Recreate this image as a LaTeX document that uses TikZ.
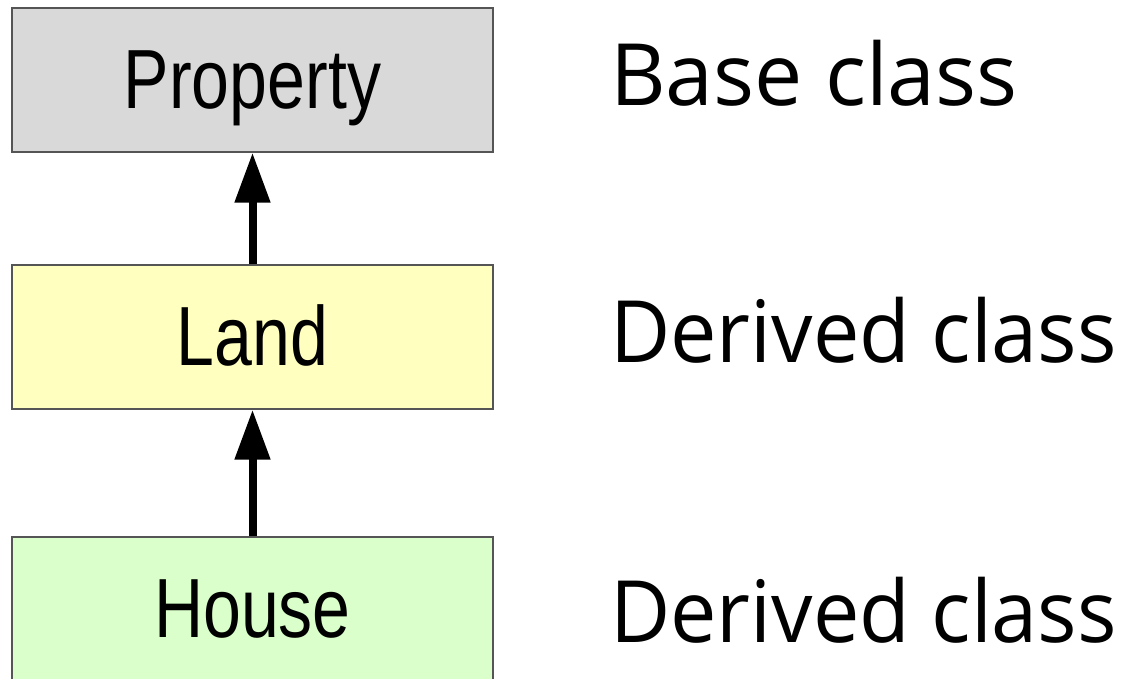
\documentclass[tikz,border=0pt]{standalone}
\usepackage{fontspec}
\setmainfont{Liberation Sans}
\newfontfamily\labelfont{Open Sans}
\usetikzlibrary{arrows.meta}
\definecolor{propfill}{HTML}{D9D9D9}
\definecolor{landfill}{HTML}{FFFFC0}
\definecolor{housefill}{HTML}{DAFFCA}
\definecolor{boxline}{HTML}{555555}
\tikzset{
  classbox/.style={draw=boxline, line width=1.3pt, rectangle, minimum width=481pt, minimum height=144pt, inner sep=0pt, text height=60pt, text depth=4pt, font=\fontsize{84}{90}\selectfont},
  inherit/.style={line width=8pt, -{Triangle[width=34pt,length=50pt]}},
  side/.style={anchor=base west, inner sep=0pt, font=\labelfont\fontsize{86}{92}\selectfont}
}
\begin{document}
\begin{tikzpicture}[x=1pt,y=-1pt]
\useasboundingbox (0,0) rectangle (1124,678);
\node[classbox, fill=propfill] (prop) at (252.5,80) {\scalebox{0.81}[1]{Property}};
\node[classbox, fill=landfill] (land) at (252.5,337) {\scalebox{0.81}[1]{Land}};
\node[classbox, fill=housefill] (house) at (252.5,609) {\scalebox{0.81}[1]{House}};
\draw[inherit] (land.north) -- (prop.south);
\draw[inherit] (house.north) -- (land.south);
\node[side] (l1) at (610,105) {Base class};
\node[side] (l2) at (610,362) {\scalebox{0.962}[1]{Derived class}};
\node[side] (l3) at (610,642) {\scalebox{0.962}[1]{Derived class}};
\end{tikzpicture}
\end{document}
